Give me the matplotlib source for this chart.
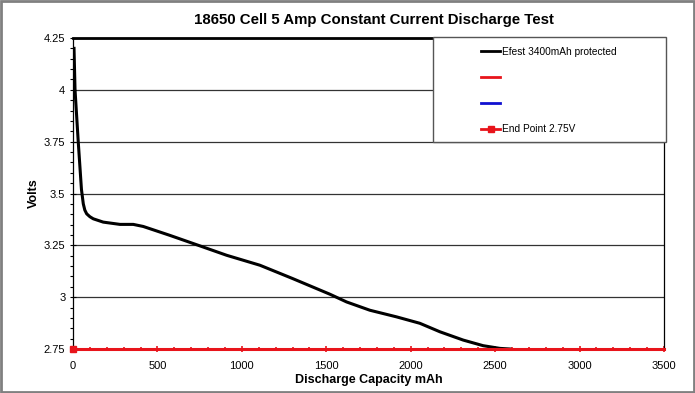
import matplotlib
matplotlib.use('Agg')
import matplotlib.pyplot as plt
from matplotlib.lines import Line2D
from matplotlib.patches import Rectangle
from matplotlib.ticker import MultipleLocator

plt.rcParams['font.family'] = ['Liberation Sans', 'DejaVu Sans']

# Discharge curve
capacity_mah = [6, 12, 31, 50, 61, 70, 81, 100, 120, 179, 278, 357, 416, 574, 732, 910,
                1107, 1300, 1522, 1620, 1758, 1916, 2054, 2173, 2311, 2429, 2528, 2587]
volts = [4.20, 4.00, 3.75, 3.52, 3.45, 3.42, 3.402, 3.388, 3.378, 3.362, 3.351, 3.351, 3.341,
         3.298, 3.253, 3.202, 3.154, 3.09, 3.014, 2.977, 2.937, 2.905, 2.874, 2.833, 2.793,
         2.766, 2.753, 2.75]

# End point reference line
endpoint_x = [0, 3500]
endpoint_v = [2.75, 2.75]

series_labels = ['Efest 3400mAh protected', ' ', ' ', 'End Point 2.75V']

fig = plt.figure(figsize=(6.95, 3.93), dpi=100)
ax = fig.add_axes([73/695, 1-349/393, 591/695, 311/393])

ax.plot(capacity_mah, volts, color='black', lw=2.2, zorder=3, solid_joinstyle='round')
ax.plot(endpoint_x, endpoint_v, color='#e8141b', lw=2.2, marker='s', ms=5,
        markevery=[0], zorder=4, clip_on=False)

ax.set_xlim(0, 3500)
ax.set_ylim(2.75, 4.25)
ax.xaxis.set_major_locator(MultipleLocator(500))
ax.xaxis.set_minor_locator(MultipleLocator(100))
ax.yaxis.set_minor_locator(MultipleLocator(0.05))
ax.set_yticks([2.75, 3, 3.25, 3.5, 3.75, 4, 4.25])
ax.set_yticklabels(['2.75', '3', '3.25', '3.5', '3.75', '4', '4.25'])

ax.tick_params(axis='y', which='major', direction='inout', length=5, width=0.8, labelsize=8, pad=3)
ax.tick_params(axis='y', which='minor', direction='out', length=2.5, width=0.8)
ax.tick_params(axis='x', which='major', direction='inout', length=5, width=1.2,
               color='#e8141b', labelsize=8, pad=6)
ax.tick_params(axis='x', which='minor', direction='inout', length=3, width=1.2, color='#e8141b')

ax.grid(axis='y', which='major', color='#333333', lw=0.9)
ax.set_axisbelow(True)
for side in ['left', 'right']:
    ax.spines[side].set_linewidth(0.9)
ax.spines['top'].set_linewidth(2)
ax.spines['bottom'].set_color('#e8141b')

ax.set_xlabel('Discharge Capacity mAh', fontsize=9, fontweight='bold', labelpad=2)
ax.set_ylabel('Volts', fontsize=9, fontweight='bold', labelpad=3)
fig.text(374/695, 1-20/393, '18650 Cell 5 Amp Constant Current Discharge Test',
         ha='center', va='center', fontsize=10.8, fontweight='bold')

# legend box
fig.patches.append(Rectangle((433/695, 1-142/393), 233/695, 105/393,
                             transform=fig.transFigure, facecolor='white',
                             edgecolor='#555555', lw=1, zorder=5))
handles = [Line2D([], [], color='black', lw=2),
           Line2D([], [], color='#e8141b', lw=2),
           Line2D([], [], color='#1010d0', lw=2),
           Line2D([], [], color='#e8141b', lw=2, marker='s', ms=5)]
leg = fig.legend(handles, series_labels, loc='upper left',
                 bbox_to_anchor=(481/695, 1-47/393), frameon=False,
                 fontsize=7.3, handlelength=1.9, handletextpad=0.2,
                 labelspacing=1.55, borderpad=0, borderaxespad=0)
leg.set_zorder(6)

# outer border
fig.patches.append(Rectangle((0.002, 0.003), 0.996, 0.994, transform=fig.transFigure,
                             fill=False, edgecolor='#808080', lw=2))

fig.savefig('out.png', dpi=100)
